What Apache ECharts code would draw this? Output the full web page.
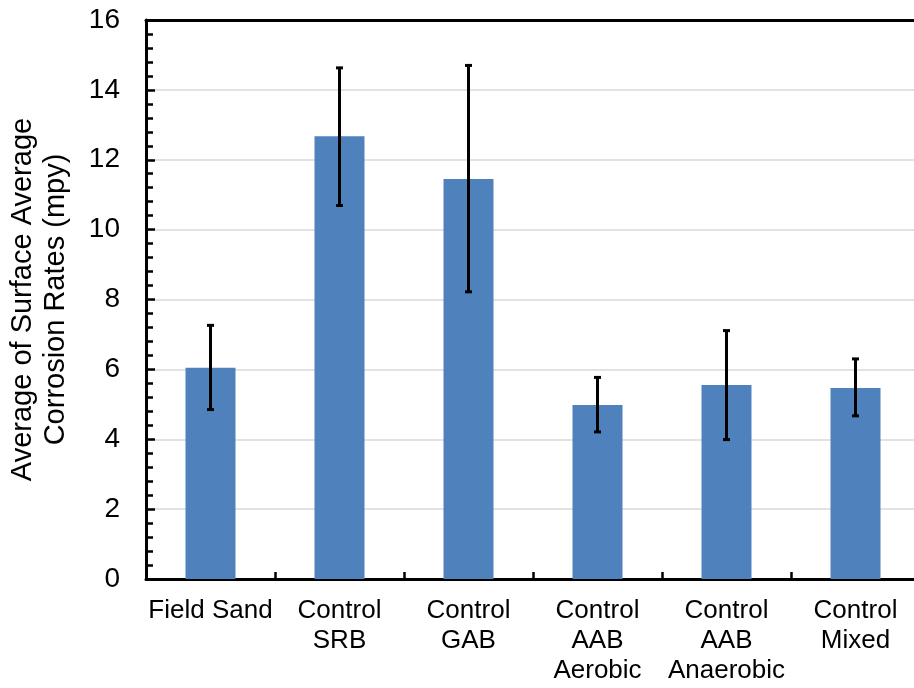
<!DOCTYPE html>
<html>
<head>
<meta charset="utf-8">
<script src="https://cdn.jsdelivr.net/npm/echarts@6/dist/echarts.min.js"></script>
<style>
html,body{margin:0;padding:0;background:#fff;}
#chart{width:914px;height:688px;}
</style>
</head>
<body>
<div id="chart"></div>
<script>
const categories = ['Field Sand', 'Control\nSRB', 'Control\nGAB', 'Control\nAAB\nAerobic', 'Control\nAAB\nAnaerobic', 'Control\nMixed'];
const meanRates = [6.05, 12.67, 11.45, 4.98, 5.55, 5.47];
const errLow = [4.85, 10.69, 8.22, 4.21, 3.99, 4.67];
const errHigh = [7.26, 14.63, 14.70, 5.77, 7.11, 6.30];
const yTicks = [0, 2, 4, 6, 8, 10, 12, 14, 16];

const errData = categories.map((c, i) => [i, errLow[i], errHigh[i]]);

const chart = echarts.init(document.getElementById('chart'), null, {renderer: 'canvas'});
chart.setOption({
  animation: false,
  backgroundColor: '#fff',
  textStyle: {fontFamily: 'Liberation Sans, Arial, sans-serif'},
  grid: {left: 146, top: 20, right: -6, bottom: 109, outerBoundsMode: 'none', containLabel: false},
  xAxis: [{
    type: 'category',
    data: categories,
    axisLine: {show: true, lineStyle: {color: '#000', width: 3}},
    axisTick: {show: true, inside: true, length: 7, lineStyle: {color: '#000', width: 2.5}},
    axisLabel: {color: '#000', fontSize: 26, lineHeight: 30, margin: 17, interval: 0, fontFamily: 'Liberation Sans'},
    splitLine: {show: false}
  }, {
    type: 'category',
    position: 'top',
    data: categories,
    axisLine: {show: true, lineStyle: {color: '#000', width: 3}},
    axisTick: {show: false},
    axisLabel: {show: false}
  }],
  yAxis: {
    type: 'value',
    min: yTicks[0],
    max: yTicks[yTicks.length - 1],
    interval: 2,
    name: 'Average of Surface Average\nCorrosion Rates (mpy)',
    nameLocation: 'middle',
    nameGap: 74,
    nameTextStyle: {color: '#000', fontSize: 29, lineHeight: 33, fontFamily: 'Liberation Sans'},
    axisLine: {show: true, lineStyle: {color: '#000', width: 3}},
    axisTick: {show: true, inside: true, length: 9, lineStyle: {color: '#000', width: 2.5}},
    minorTick: {show: true, splitNumber: 5, length: 7, lineStyle: {color: '#000', width: 2.5}},
    axisLabel: {color: '#000', fontSize: 28, margin: 26, fontFamily: 'Liberation Sans'},
    splitLine: {show: true, lineStyle: {color: '#d9d9d9', width: 1.5}}
  },
  series: [{
    type: 'bar',
    data: meanRates,
    barWidth: 50,
    itemStyle: {color: '#4F81BD'},
    z: 2
  }, {
    type: 'custom',
    data: errData,
    z: 5,
    renderItem: function (params, api) {
      const x = api.value(0);
      const lo = api.coord([x, api.value(1)]);
      const hi = api.coord([x, api.value(2)]);
      const cap = 3.5;
      const style = {stroke: '#000', lineWidth: 3};
      return {
        type: 'group',
        children: [
          {type: 'line', shape: {x1: hi[0], y1: hi[1], x2: lo[0], y2: lo[1]}, style: style},
          {type: 'line', shape: {x1: hi[0] - cap, y1: hi[1], x2: hi[0] + cap, y2: hi[1]}, style: style},
          {type: 'line', shape: {x1: lo[0] - cap, y1: lo[1], x2: lo[0] + cap, y2: lo[1]}, style: style}
        ]
      };
    }
  }]
});
</script>
</body>
</html>
